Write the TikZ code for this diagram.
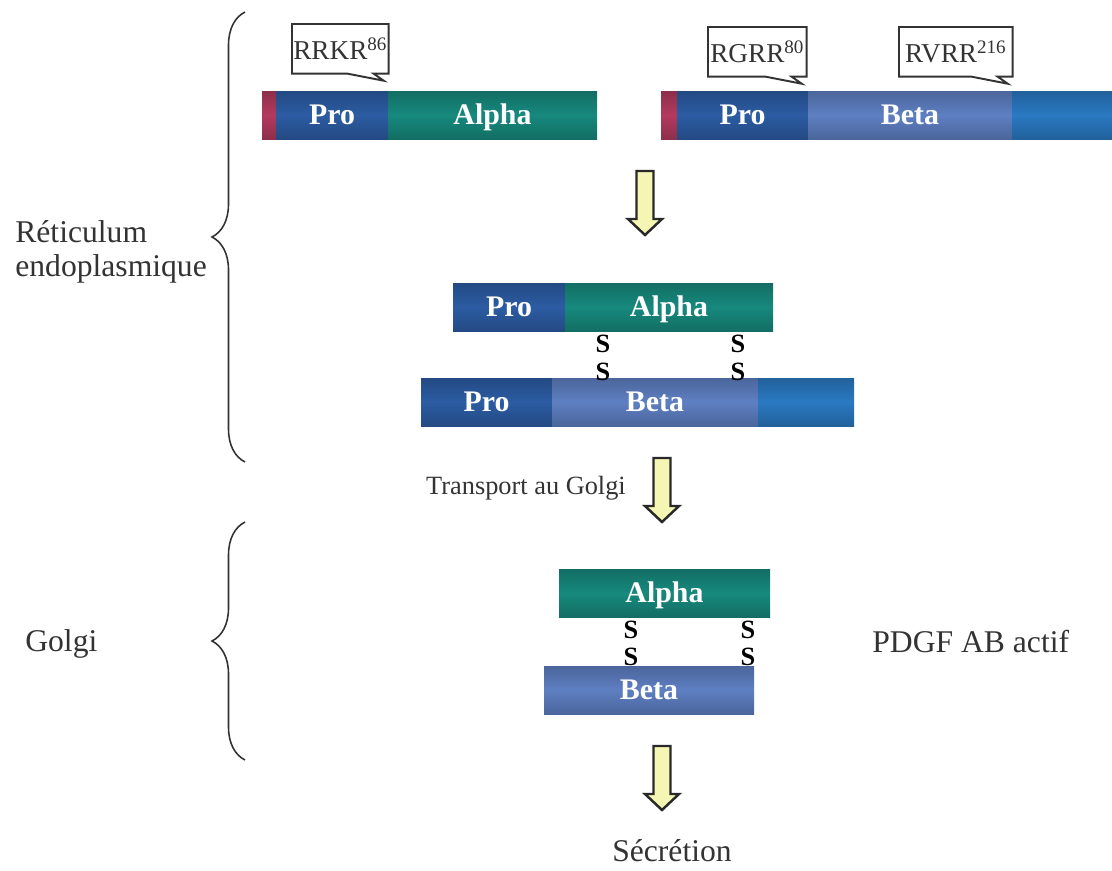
\documentclass[tikz,border=0pt]{standalone}
\usepackage{fontspec}
\setmainfont{Liberation Serif}
\usetikzlibrary{positioning, decorations.pathreplacing}
\definecolor{sigred}{HTML}{B23A5E}
\definecolor{problue}{HTML}{2C5CA3}
\definecolor{alphateal}{HTML}{17897D}
\definecolor{betablue}{HTML}{5E7FC2}
\definecolor{tailblue}{HTML}{2A79C2}
\definecolor{arrowyellow}{HTML}{F6F6B4}
\definecolor{inkgray}{HTML}{333333}

\begin{document}
\begin{tikzpicture}[x=0.02cm, y=-0.02cm,
    seg/.style 2 args={minimum width=#1*0.02cm, minimum height=0.96cm, inner sep=0pt, outer sep=0pt,
      text height=11.3pt, text depth=0pt,
      top color=#2!80!black, bottom color=#2!80!black, middle color=#2,
      text=white, font=\fontsize{17}{17}\selectfont\bfseries},
    callbox/.style={minimum height=0.98cm, inner sep=0pt, text=inkgray, font=\fontsize{15.5}{15.5}\selectfont},
    callline/.style={draw=inkgray, line width=1.1pt, line join=miter},
    label/.style={text=inkgray, font=\fontsize{18}{19}\selectfont, inner sep=0pt},
    sulf/.style={font=\fontsize{15}{15}\selectfont\bfseries, text=black, inner sep=0pt},
    blockarrow/.style={draw=inkgray!80!black, fill=arrowyellow, line width=1.4pt, line join=miter},
    regionbrace/.style={draw=inkgray, line width=0.9pt, decorate, decoration={brace, amplitude=0.66cm}}]
  \useasboundingbox (0,0) rectangle (1112,870);

  % precursors in the ER
  \node[seg={14}{sigred}, anchor=west] (sig1) at (262,115) {};
  \node[seg={112}{problue}, right=0pt of sig1] (pro1) {Pro};
  \node[seg={209}{alphateal}, right=0pt of pro1] (alpha1) {Alpha};

  \node[seg={16}{sigred}, anchor=west] (sig2) at (661,115) {};
  \node[seg={131}{problue}, right=0pt of sig2] (pro2) {Pro};
  \node[seg={204}{betablue}, right=0pt of pro2] (beta2) {Beta};
  \node[seg={100}{tailblue}, right=0pt of beta2] (tail2) {};

  % cleavage sites
  \node[callbox, minimum width=1.92cm, anchor=north west] (rrkr) at (292,24) {RRKR\textsuperscript{86}};
  \node[callbox, minimum width=1.96cm, anchor=north west] (rgrr) at (708,27) {RGRR\textsuperscript{80}};
  \node[callbox, minimum width=2.26cm, anchor=north west] (rvrr) at (899,27) {RVRR\textsuperscript{216}};
  \foreach \c in {rrkr, rgrr, rvrr}
    \draw[callline] (\c.south west) -- (\c.north west) -- (\c.north east) -- (\c.south east)
      -- ++(-15,0) -- ++(10,7) -- ++(-36,-7) -- cycle;

  % dimer with pro domains
  \node[seg={112}{problue}, anchor=west] (pro3) at (453,307) {Pro};
  \node[seg={208}{alphateal}, right=0pt of pro3] (alpha3) {Alpha};
  \node[seg={131}{problue}, anchor=west] (pro4) at (421,402) {Pro};
  \node[seg={206}{betablue}, right=0pt of pro4] (beta4) {Beta};
  \node[seg={96}{tailblue}, right=0pt of beta4] (tail4) {};

  % mature dimer
  \node[seg={211}{alphateal}, anchor=west] (alpha5) at (559,593) {Alpha};
  \node[seg={210}{betablue}, anchor=west] (beta5) at (544,690) {Beta};

  % disulfide bridges
  \foreach \x/\y [count=\i] in {603/344, 603/372, 738/344, 738/372, 631/630, 631/657, 748/630, 748/657}
    \node[sulf] (s\i) at (\x,\y) {S};

  % arrows
  \foreach \cx/\ty in {645/171, 662/458, 662/746}
    \draw[blockarrow] ({\cx-8.5},\ty) -- ({\cx+8.5},\ty) -- ({\cx+8.5},{\ty+48}) -- ({\cx+17},{\ty+48})
      -- (\cx,{\ty+64}) -- ({\cx-17},{\ty+48}) -- ({\cx-8.5},{\ty+48}) -- cycle;

  % compartments
  \draw[regionbrace] (245,462) -- (245,12);
  \draw[regionbrace] (245,760) -- (245,522);
  \node[label, align=left, anchor=west] (er) at (15,252) {Réticulum\\endoplasmique};
  \node[label, anchor=west] (golgi) at (25,644) {Golgi};
  \node[label, anchor=west] (active) at (872,642) {PDGF AB actif};
  \node[label, font=\fontsize{15}{15}\selectfont] (transport) at (526,488) {Transport au Golgi};
  \node[label] (secretion) at (672,851) {Sécrétion};
\end{tikzpicture}
\end{document}
